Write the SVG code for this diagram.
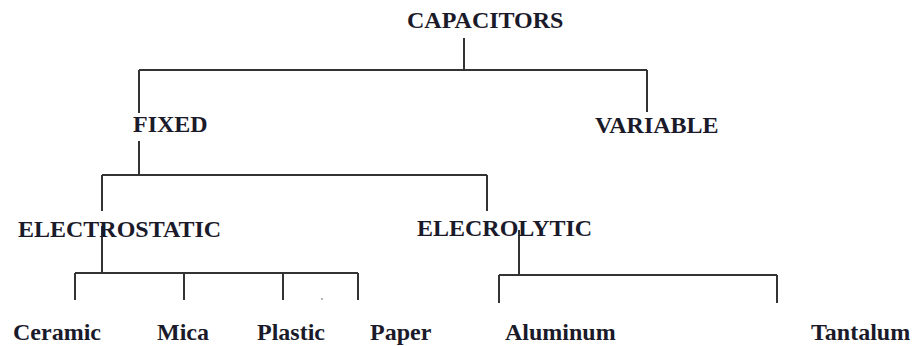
<svg xmlns="http://www.w3.org/2000/svg" width="916" height="346" viewBox="0 0 916 346">
<style>
.t{font-family:"Liberation Serif","Times New Roman",serif;font-weight:bold;font-size:24px;fill:#1a1a2a}
.c{stroke:#333;stroke-width:2;fill:none}
</style>
<rect width="916" height="346" fill="#fff"/>
<g id="connectors">
<path class="c" d="M464 38V70M139 70H647M139 70V113M647 70V112"/>
<path class="c" d="M139 141V175M102 175H487M102 175V211M487 175V211"/>
<path class="c" d="M102 226V273M75 273H358M75 273V300M184 273V300M283 273V300M358 273V300"/>
<path class="c" d="M519 230V275M499 275H777M499 275V303M777 275V303"/>
<circle cx="322" cy="299" r="1" fill="#999"/>
</g>
<g id="capacitors"><text class="t" x="407" y="28">CAPACITORS</text></g>
<g id="fixed"><text class="t" x="133" y="132">FIXED</text></g>
<g id="variable"><text class="t" x="595" y="133">VARIABLE</text></g>
<g id="electrostatic"><text class="t" x="18" y="237">ELECTROSTATIC</text></g>
<g id="elecrolytic"><text class="t" x="417" y="236">ELECROLYTIC</text></g>
<g id="ceramic"><text class="t" x="13" y="340">Ceramic</text></g>
<g id="mica"><text class="t" x="157" y="340">Mica</text></g>
<g id="plastic"><text class="t" x="257" y="340">Plastic</text></g>
<g id="paper"><text class="t" x="370" y="340">Paper</text></g>
<g id="aluminum"><text class="t" x="505" y="340">Aluminum</text></g>
<g id="tantalum"><text class="t" x="811" y="340">Tantalum</text></g>
</svg>
